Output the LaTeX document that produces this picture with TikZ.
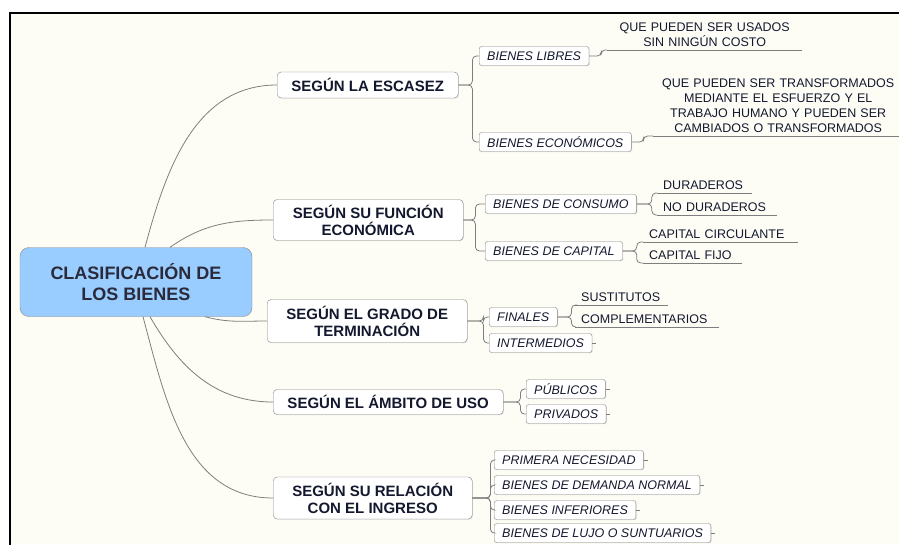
\documentclass[tikz,border=0pt]{standalone}
\usepackage{fontspec}
\setmainfont{Liberation Sans}
\usetikzlibrary{shadows}
\definecolor{bgcream}{HTML}{FDFDF6}
\definecolor{rootblue}{HTML}{99CCFF}
\definecolor{rootink}{HTML}{2A2A3A}
\definecolor{inkblue}{HTML}{14182E}
\definecolor{edgegray}{HTML}{7E7E7E}
\definecolor{boxgray}{HTML}{858585}
\begin{document}
\begin{tikzpicture}[x=1pt,y=-1pt,
    rootbox/.style={draw=boxgray,fill=rootblue,rounded corners=9pt,align=center,text=rootink,
        font=\fontsize{18}{21}\selectfont\bfseries,minimum width=232pt,minimum height=69pt},
    mainbox/.style={anchor=west,draw=boxgray,fill=white,rounded corners=4pt,align=center,text=inkblue,
        font=\fontsize{15}{17}\selectfont\bfseries,inner xsep=4pt,
        drop shadow={shadow xshift=0.7pt,shadow yshift=-0.7pt,fill=black!25}},
    subbox/.style={anchor=west,draw=boxgray,fill=white,rounded corners=2.5pt,text=inkblue,
        font=\fontsize{12.5}{14}\selectfont\itshape,inner xsep=8pt,minimum height=19pt,
        drop shadow={shadow xshift=0.7pt,shadow yshift=-0.7pt,fill=black!25}},
    leaf/.style={anchor=south west,inner xsep=6pt,inner ysep=3pt,text=inkblue,
        font=\fontsize{12.5}{15}\selectfont},
    edge/.style={draw=edgegray,line width=0.8pt},
    bracket/.style={edge,rounded corners=4pt}]

\useasboundingbox (0,0) rectangle (899,544);
\fill[bgcream] (10,13) rectangle (899,544);
\draw[line width=1.6pt] (10,550) -- (10,13) -- (905,13);

% root and first level
\node[rootbox] (root) at (136,282) {CLASIFICACIÓN DE\\LOS BIENES};
\node[mainbox,minimum width=181pt,minimum height=26pt] (escasez) at (277,85) {SEGÚN LA ESCASEZ};
\node[mainbox,minimum width=190pt,minimum height=41pt] (funcion) at (273,220) {SEGÚN SU FUNCIÓN\\ECONÓMICA};
\node[mainbox,minimum width=200pt,minimum height=43pt] (grado) at (267,321) {SEGÚN EL GRADO DE\\TERMINACIÓN};
\node[mainbox,minimum width=230pt,minimum height=25pt] (ambito) at (273,402) {SEGÚN EL ÁMBITO DE USO};
\node[mainbox,minimum width=199pt,minimum height=42pt] (ingreso) at (273,498) {SEGÚN SU RELACIÓN\\CON EL INGRESO};

% second level
\node[subbox] (libres) at (479,56) {BIENES LIBRES};
\node[subbox] (economicos) at (479,142) {BIENES ECONÓMICOS};
\node[subbox] (consumo) at (485,204) {BIENES DE CONSUMO};
\node[subbox] (capital) at (485,251) {BIENES DE CAPITAL};
\node[subbox] (finales) at (489,317) {FINALES};
\node[subbox] (inter) at (489,343) {INTERMEDIOS};
\node[subbox] (publicos) at (526,389) {PÚBLICOS};
\node[subbox] (privados) at (526,414) {PRIVADOS};
\node[subbox] (primera) at (494,460) {PRIMERA NECESIDAD};
\node[subbox] (normal) at (494,485) {BIENES DE DEMANDA NORMAL};
\node[subbox] (inferiores) at (494,510) {BIENES INFERIORES};
\node[subbox] (lujo) at (494,533) {BIENES DE LUJO O SUNTUARIOS};

% leaves
\node[leaf,text width=183pt,align=center] (usados) at (607,50) {QUE PUEDEN SER USADOS\\SIN NINGÚN COSTO};
\node[leaf,text width=238pt,align=center] (transf) at (653,136) {QUE PUEDEN SER TRANSFORMADOS\\MEDIANTE EL ESFUERZO Y EL\\TRABAJO HUMANO Y PUEDEN SER\\CAMBIADOS O TRANSFORMADOS};
\node[leaf,text width=83pt,align=left] (dur) at (657,193) {DURADEROS};
\node[leaf,text width=108pt,align=left] (nodur) at (657,215) {NO DURADEROS};
\node[leaf,text width=143pt,align=left] (circ) at (643,242) {CAPITAL CIRCULANTE};
\node[leaf,text width=87pt,align=left] (fijo) at (643,263) {CAPITAL FIJO};
\node[leaf,text width=81pt,align=left] (sust) at (575,305) {SUSTITUTOS};
\node[leaf,text width=132pt,align=left] (compl) at (575,327) {COMPLEMENTARIOS};

% connectors
\draw[edge] ([xshift=9pt]root.north) to[out=75,in=180] (escasez.west);
\draw[edge] ([xshift=34pt]root.north) to[out=35,in=180] (funcion.west);
\draw[edge] ([xshift=69pt]root.south) to[out=-15,in=180] (grado.west);
\draw[edge] ([xshift=14pt]root.south) to[out=-60,in=180] (ambito.west);
\draw[edge] ([xshift=7pt]root.south) to[out=-75,in=180] (ingreso.west);

\draw[bracket] (escasez.east) -- ++(14,0) |- (libres.west);
\draw[bracket] (escasez.east) -- ++(14,0) |- (economicos.west);
\draw[bracket] (funcion.east) -- ++(12,0) |- (consumo.west);
\draw[bracket] (funcion.east) -- ++(12,0) |- (capital.west);
\draw[bracket] (grado.east) -- ++(16,0) |- (finales.west);
\draw[bracket] (grado.east) -- ++(16,0) |- (inter.west);
\draw[bracket] (ambito.east) -- ++(17,0) |- (publicos.west);
\draw[bracket] (ambito.east) -- ++(17,0) |- (privados.west);
\draw[bracket] (ingreso.east) -- ++(18,0) |- (primera.west);
\draw[bracket] (ingreso.east) -- ++(18,0) |- (normal.west);
\draw[bracket] (ingreso.east) -- ++(18,0) |- (inferiores.west);
\draw[bracket] (ingreso.east) -- ++(18,0) |- (lujo.west);

\draw[bracket] (libres.east) -- ++(12,0) |- (usados.south west);
\draw[bracket] (economicos.east) -- ++(12,0) |- (transf.south west);
\draw[bracket] (consumo.east) -- ++(15,0) |- (dur.south west);
\draw[bracket] (consumo.east) -- ++(15,0) |- (nodur.south west);
\draw[bracket] (capital.east) -- ++(14,0) |- (circ.south west);
\draw[bracket] (capital.east) -- ++(14,0) |- (fijo.south west);
\draw[bracket] (finales.east) -- ++(14,0) |- (sust.south west);
\draw[bracket] (finales.east) -- ++(14,0) |- (compl.south west);

\foreach \n in {usados,transf,dur,nodur,circ,fijo,sust,compl}
    \draw[edge] (\n.south west) -- (\n.south east);
\foreach \n in {inter,publicos,privados,primera,normal,inferiores,lujo}
    \draw[edge] (\n.east) -- ++(4,0);
\end{tikzpicture}
\end{document}
